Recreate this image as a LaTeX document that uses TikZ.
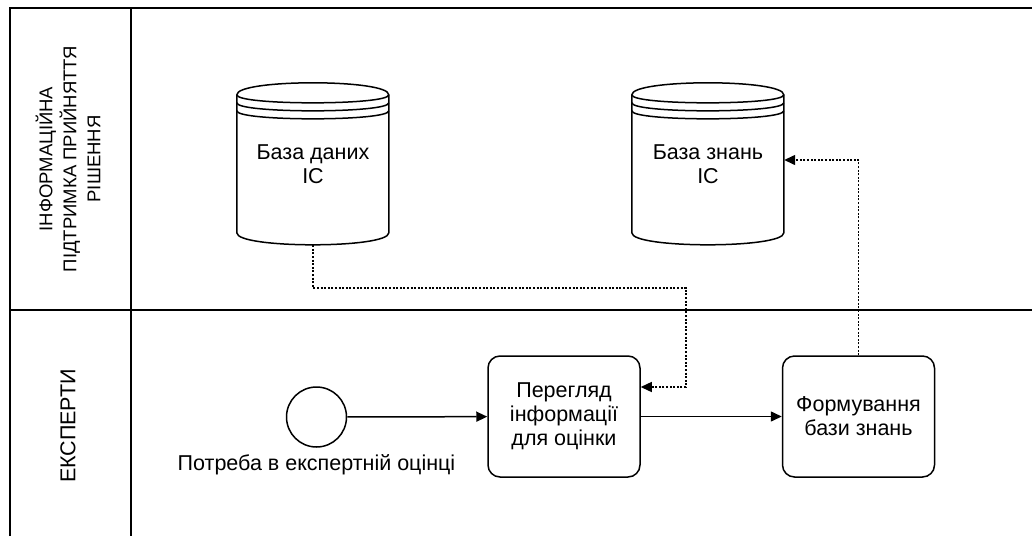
\documentclass[tikz,border=0pt]{standalone}
\usepackage{fontspec}
\setmainfont{Liberation Sans}
\usetikzlibrary{arrows.meta,calc}
\begin{document}
\begin{tikzpicture}[x=1pt,y=-1pt,
  every node/.style={font=\fontsize{21.5}{24}\selectfont, align=center, inner sep=0pt},
  poolline/.style={line width=1.6pt},
  lanelabel/.style={rotate=90},
  task/.style={draw, line width=1.5pt, rounded corners=12pt, minimum width=152pt, minimum height=121pt},
  startev/.style={draw, circle, line width=1.5pt, minimum size=60pt},
  store/.style={minimum width=152pt, minimum height=162pt},
  storeline/.style={line width=1.5pt},
  flow/.style={line width=1.5pt, -{Triangle[length=11pt,width=10pt]}},
  assoc/.style={line width=1.4pt, dash pattern=on 2pt off 1.6pt, -{Triangle[length=11pt,width=10pt]}}
]
\useasboundingbox (0,0) rectangle (1032,536);

% pool and lanes
\draw[poolline] (10,536) -- (10,8) -- (1032,8);
\draw[poolline] (131,8) -- (131,536);
\draw[poolline] (10,310) -- (1032,310);

\node[lanelabel, font=\fontsize{18.5}{24}\selectfont] (lane1) at (68,159)
  {ІНФОРМАЦІЙНА\\ПІДТРИМКА ПРИЙНЯТТЯ\\РІШЕННЯ};
\node[lanelabel] (lane2) at (68,426) {ЕКСПЕРТИ};

% data stores: outline plus the three rims at the top
\node[store] (db1) at (313,164) {База даних\\IC};
\node[store] (db2) at (708,164) {База знань\\IC};
\foreach \n in {db1,db2} {
  \begin{scope}[shift={(\n.north west)}]
    \draw[storeline] (0,12) .. controls (0,-4) and (152,-4) .. (152,12)
      -- (152,150) .. controls (152,166) and (0,166) .. (0,150) -- cycle;
    \draw[storeline] (0,12) .. controls (0,22.7) and (152,22.7) .. (152,12);
    \draw[storeline] (0,20) .. controls (0,30.7) and (152,30.7) .. (152,20);
    \draw[storeline] (0,28) .. controls (0,38.7) and (152,38.7) .. (152,28);
  \end{scope}
}

% process
\node[startev] (start) at (316.5,417) {};
\node (startlbl) at (316.5,465) {Потреба в експертній оцінці};
\node[task] (t1) at (564,416.5) {Перегляд\\інформації\\для оцінки};
\node[task] (t2) at (858.5,416.5) {Формування\\бази знань};

\draw[flow] (start) -- (t1);
\draw[flow] (t1) -- (t2);

% data associations
\coordinate (k1) at (686,288);
\draw[assoc] (db1.south) |- (k1) |- ($(t1.east)+(0,-29.5)$);
\draw[assoc] (t2.north) |- ($(db2.east)+(0,-4)$);
\end{tikzpicture}
\end{document}
